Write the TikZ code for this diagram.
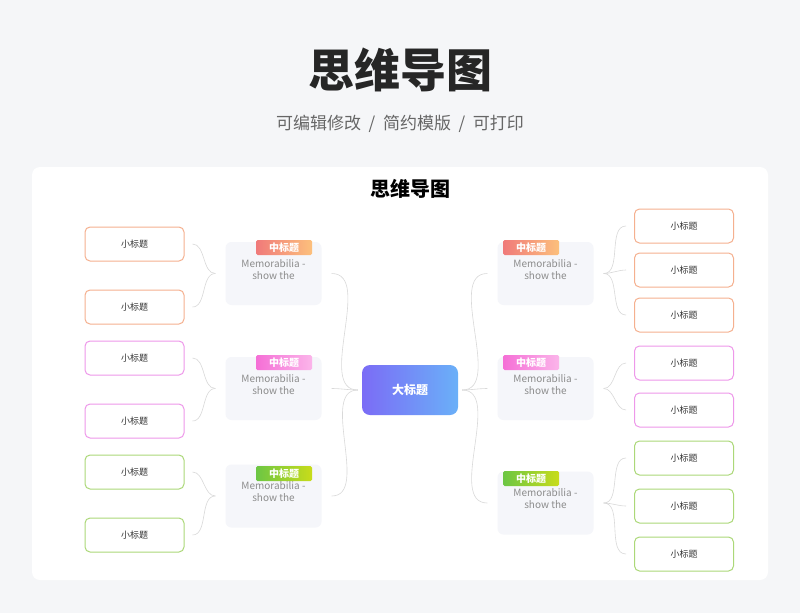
\documentclass[tikz,border=0pt]{standalone}
\usepackage{fontspec}
\setmainfont{Noto Sans CJK SC}
\definecolor{bg}{HTML}{F5F6F8}
\definecolor{orb}{HTML}{F5B08F}
\definecolor{pkb}{HTML}{EE98EA}
\definecolor{grb}{HTML}{ACD878}
\definecolor{cA}{HTML}{7B6CF6}
\definecolor{cB}{HTML}{6AB0F8}
\definecolor{o1}{HTML}{F07A7A}
\definecolor{o2}{HTML}{FCC07C}
\definecolor{p1}{HTML}{F56FD6}
\definecolor{p2}{HTML}{FBB5EA}
\definecolor{g1}{HTML}{6CC644}
\definecolor{g2}{HTML}{C8DC1A}
\definecolor{midf}{HTML}{F5F6FA}
\begin{document}
\begin{tikzpicture}[x=1pt,y=-1pt,
  conn/.style={draw=black!15,line width=0.6pt},
  small/.style={draw=#1,line width=1pt,rounded corners=5pt,fill=white,minimum width=99pt,minimum height=34pt,font=\fontsize{9}{11}\selectfont,text=black!80},
  mid/.style={fill=midf,rounded corners=6pt,minimum width=96pt,minimum height=51pt,align=center,font=\fontsize{10}{12}\selectfont,text=black!45,inner sep=0pt},
  tag/.style 2 args={left color=#1,right color=#2,rounded corners=1.5pt,minimum width=56pt,minimum height=15pt,inner sep=0pt,text=white,font=\bfseries\fontsize{10}{11}\selectfont}]
\fill[bg] (0,0) rectangle (800,613);
\useasboundingbox (0,0) rectangle (800,613);
\node[font=\bfseries\fontsize{46}{52}\selectfont,text=black!85] (t) at (400,70) {思维导图};
\node[font=\fontsize{17}{20}\selectfont,text=black!60] (st) at (400,124) {可编辑修改\ \ /\ \ 简约模版\ \ /\ \ 可打印};
\fill[white,rounded corners=8pt] (32,167) rectangle (768,580);
\node[font=\bfseries\fontsize{20}{22}\selectfont] (t2) at (410,189) {思维导图};
\node[left color=cA,right color=cB,rounded corners=8pt,minimum width=96pt,minimum height=50pt,text=white,font=\bfseries\fontsize{12}{14}\selectfont] (c) at (410,390) {大标题};
% mids
\foreach \n/\x/\y in {L1/273.5/273.5,L2/273.5/388.5,L3/273.5/496,R1/545.5/273.5,R2/545.5/388.5,R3/545.5/503}
  \node[mid] (\n) at (\x,\y) {\rule{0pt}{10pt}\\[3pt]Memorabilia -\\show the\\[14pt]};
\node[tag={o1}{o2}] (tL1) at (284,247.5) {中标题};
\node[tag={p1}{p2}] (tL2) at (284,362.5) {中标题};
\node[tag={g1}{g2}] (tL3) at (284,473.5) {中标题};
\node[tag={o1}{o2}] (tR1) at (531,247.5) {中标题};
\node[tag={p1}{p2}] (tR2) at (531,362.5) {中标题};
\node[tag={g1}{g2}] (tR3) at (531,478.5) {中标题};
% small left
\node[small=orb] (a1) at (134.5,244) {小标题};
\node[small=orb] (a2) at (134.5,307) {小标题};
\node[small=pkb] (a3) at (134.5,358) {小标题};
\node[small=pkb] (a4) at (134.5,421) {小标题};
\node[small=grb] (a5) at (134.5,472) {小标题};
\node[small=grb] (a6) at (134.5,535) {小标题};
% small right
\node[small=orb] (b1) at (684,226) {小标题};
\node[small=orb] (b2) at (684,270) {小标题};
\node[small=orb] (b3) at (684,315) {小标题};
\node[small=pkb] (b4) at (684,363) {小标题};
\node[small=pkb] (b5) at (684,410) {小标题};
\node[small=grb] (b6) at (684,458) {小标题};
\node[small=grb] (b7) at (684,506) {小标题};
\node[small=grb] (b8) at (684,554) {小标题};
% connectors
\foreach \m in {L1,L2,L3}
  \draw[conn] ([xshift=-4pt]c.west) to[out=180,in=0,looseness=0.9] ([xshift=10pt]\m.east);
\foreach \m in {R1,R2,R3}
  \draw[conn] ([xshift=4pt]c.east) to[out=0,in=180,looseness=0.9] ([xshift=-10pt]\m.west);
\foreach \m/\s in {L1/a1,L1/a2,L2/a3,L2/a4,L3/a5,L3/a6}
  \draw[conn] ([xshift=-10pt]\m.west) to[out=180,in=0,looseness=0.9] ([xshift=8pt]\s.east);
\foreach \m/\s in {R1/b1,R1/b2,R1/b3,R2/b4,R2/b5,R3/b6,R3/b7,R3/b8}
  \draw[conn] ([xshift=10pt]\m.east) to[out=0,in=180,looseness=0.9] ([xshift=-8pt]\s.west);
\end{tikzpicture}
\end{document}
